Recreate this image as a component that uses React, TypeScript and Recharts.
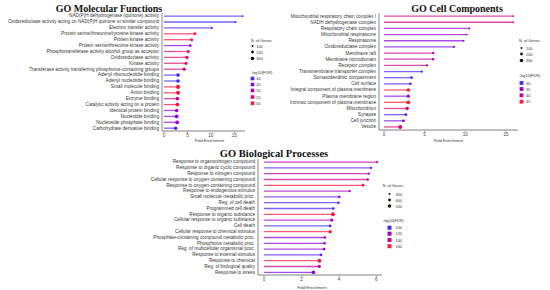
import React from 'react';
import { BarChart, Bar, XAxis, YAxis } from 'recharts';

// ---------- GO Molecular Functions ----------
const mfTerms = [
  'NAD(P)H dehydrogenase (quinone) activity',
  'Oxidoreductase activity acting on NAD(P)H quinone or similar compound',
  'Electron transfer activity',
  'Protein serine/threonine/tyrosine kinase activity',
  'Protein kinase activity',
  'Protein serine/threonine kinase activity',
  'Phosphotransferase activity alcohol group as acceptor',
  'Oxidoreductase activity',
  'Kinase activity',
  'Transferase activity transferring phosphorus-containing groups',
  'Adenyl ribonucleotide binding',
  'Adenyl nucleotide binding',
  'Small molecule binding',
  'Anion binding',
  'Enzyme binding',
  'Catalytic activity acting on a protein',
  'Identical protein binding',
  'Nucleotide binding',
  'Nucleoside phosphate binding',
  'Carbohydrate derivative binding',
];
const mfFold = [16.8, 15.3, 10.2, 6.6, 5.9, 5.6, 5.2, 4.9, 4.7, 4.3, 3.0, 3.0, 3.0, 3.0, 2.85, 2.85, 2.7, 2.7, 2.8, 2.5];
const mfLogFdr = [40, 40, 41, 60, 59, 46, 56, 57, 57, 54, 40, 40, 60, 60, 52, 58, 46, 46, 47, 41];
const mfGenes = [60, 70, 90, 180, 200, 160, 190, 230, 210, 220, 260, 260, 330, 320, 260, 290, 250, 270, 280, 240];
const mfSizeLegend = [100, 200, 300];
const mfFdrLegend = [40, 45, 50, 55, 60];
const mfTicks = [0, 5, 10, 15];

// ---------- GO Cell Components ----------
const ccTerms = [
  'Mitochondrial respiratory chain complex I',
  'NADH dehydrogenase complex',
  'Respiratory chain complex',
  'Mitochondrial respirasome',
  'Respirasome',
  'Oxidoreductase complex',
  'Membrane raft',
  'Membrane microdomain',
  'Receptor complex',
  'Transmembrane transporter complex',
  'Somatodendritic compartment',
  'Cell surface',
  'Integral component of plasma membrane',
  'Plasma membrane region',
  'Intrinsic component of plasma membrane',
  'Mitochondrion',
  'Synapse',
  'Cell junction',
  'Vesicle',
];
const ccFold = [15.9, 15.9, 10.5, 10.2, 9.8, 8.6, 6.05, 6.05, 5.3, 4.65, 3.4, 3.25, 3.0, 3.0, 3.0, 2.85, 2.7, 2.4, 2.0];
const ccLogFdr = [41, 41, 35, 35, 34, 34, 39, 39, 41, 30, 30, 31, 45, 34, 45, 42, 31, 33, 42];
const ccGenes = [50, 55, 70, 65, 70, 90, 120, 120, 110, 110, 160, 150, 260, 200, 270, 250, 170, 160, 300];
const ccSizeLegend = [100, 200, 300];
const ccFdrLegend = [30, 35, 40, 45];
const ccTicks = [0, 5, 10, 15];

// ---------- GO Biological Processes ----------
const bpTerms = [
  'Response to organonitrogen compound',
  'Response to organic cyclic compound',
  'Response to nitrogen compound',
  'Cellular response to oxygen-containing compound',
  'Response to oxygen-containing compound',
  'Response to endogenous stimulus',
  'Small molecule metabolic proc.',
  'Reg. of cell death',
  'Programmed cell death',
  'Response to organic substance',
  'Cellular response to organic substance',
  'Cell death',
  'Cellular response to chemical stimulus',
  'Phosphate-containing compound metabolic proc.',
  'Phosphorus metabolic proc.',
  'Reg. of multicellular organismal proc.',
  'Response to external stimulus',
  'Response to chemical',
  'Reg. of biological quality',
  'Response to stress',
];
const bpFold = [6.04, 5.71, 5.59, 5.54, 5.29, 4.57, 4.02, 3.98, 3.7, 3.68, 3.62, 3.53, 3.53, 3.25, 3.23, 3.21, 3.04, 2.96, 2.95, 2.64];
const bpLogFdr = [135, 105, 135, 140, 160, 125, 112, 102, 102, 158, 125, 102, 160, 118, 118, 118, 105, 160, 140, 115];
const bpGenes = [300, 310, 320, 330, 380, 320, 340, 330, 340, 480, 420, 360, 440, 350, 350, 360, 360, 500, 420, 470];
const bpSizeLegend = [300, 400, 500];
const bpFdrLegend = [100, 120, 140, 160];
const bpTicks = [0, 2, 4, 6];

// ---------- helpers ----------
const STOPS = ['#3b2bff', '#9a00d6', '#c8008f', '#ff1a3c'];

function hexToRgb(h: string) {
  const n = parseInt(h.slice(1), 16);
  return [(n >> 16) & 255, (n >> 8) & 255, n & 255];
}
function colorAt(t: number) {
  const tt = Math.max(0, Math.min(1, t)) * (STOPS.length - 1);
  const i = Math.min(STOPS.length - 2, Math.floor(tt));
  const f = tt - i;
  const a = hexToRgb(STOPS[i]);
  const b = hexToRgb(STOPS[i + 1]);
  const c = a.map((v, k) => Math.round(v + (b[k] - v) * f));
  return `rgb(${c[0]},${c[1]},${c[2]})`;
}
function makeColor(lo: number, hi: number) {
  return (v: number) => colorAt((v - lo) / (hi - lo));
}
function makeRadius(lo: number, hi: number) {
  return (g: number) => 1.1 + ((g - lo) / (hi - lo)) * 0.9;
}

function build(terms: string[], fold: number[], fdr: number[], genes: number[]) {
  return terms.map((name, i) => ({ name, fold: fold[i], fdr: fdr[i], genes: genes[i] }));
}

const mfData = build(mfTerms, mfFold, mfLogFdr, mfGenes);
const ccData = build(ccTerms, ccFold, ccLogFdr, ccGenes);
const bpData = build(bpTerms, bpFold, bpLogFdr, bpGenes);

const SANS = '"Liberation Sans", Arial, sans-serif';
const SERIF = '"Liberation Serif", "Times New Roman", serif';

type PanelProps = {
  data: any[];
  left: number;
  top: number;
  width: number;
  height: number;
  yWidth: number;
  margin: { top: number; right: number; bottom: number; left: number };
  domain: [number, number];
  ticks: number[];
  padLeft: number;
  xHeight: number;
  labelOffset: number;
  labelDx: number;
  color: (v: number) => string;
  radius: (g: number) => number;
};

const YTick = (props: any) => {
  const { x, y, payload } = props;
  return (
    <text x={x} y={y} textAnchor="end" dominantBaseline="central" fontSize={4.7} fill="#333" fontFamily={SANS}>
      {payload.value}
    </text>
  );
};

function Panel(p: PanelProps) {
  const Lolli = (props: any) => {
    const { x, y, width, height, payload } = props;
    const cy = y + height / 2;
    const c = p.color(payload.fdr);
    const r = p.radius(payload.genes);
    return (
      <g>
        <line x1={x} y1={cy} x2={x + width} y2={cy} stroke={c} strokeOpacity={0.72} strokeWidth={1.3} />
        <circle cx={x + width} cy={cy} r={r} fill={c} />
      </g>
    );
  };
  return (
    <div style={{ position: 'absolute', left: p.left, top: p.top }}>
      <BarChart width={p.width} height={p.height} data={p.data} layout="vertical" margin={p.margin}>
        <XAxis
          type="number"
          dataKey="fold"
          domain={p.domain}
          ticks={p.ticks}
          padding={{ left: p.padLeft, right: 0 }}
          height={p.xHeight}
          tickSize={2}
          tickMargin={1}
          axisLine={{ stroke: '#aaa', strokeWidth: 1.5 }}
          tickLine={{ stroke: '#aaa' }}
          tick={{ fontSize: 4.6, fill: '#444', fontFamily: SANS }}
          label={{
            value: 'Fold Enrichment',
            position: 'insideBottom',
            offset: p.labelOffset,
            dx: p.labelDx,
            style: { fontSize: 4, fill: '#333', fontFamily: SANS },
          }}
        />
        <YAxis
          type="category"
          dataKey="name"
          width={p.yWidth}
          interval={0}
          tickSize={2}
          tickMargin={1}
          tickLine={false}
          axisLine={{ stroke: '#888', strokeWidth: 1 }}
          tick={<YTick />}
        />
        <Bar dataKey="fold" shape={Lolli} isAnimationActive={false} />
      </BarChart>
    </div>
  );
}

type LegendProps = {
  x: number;
  y: number;
  sizes: number[];
  fdrs: number[];
  color: (v: number) => string;
  radius: (g: number) => number;
  dotX: number;
  labelX: number;
  sizeYs: number[];
  fdrTitleY: number;
  fdrYs: number[];
  sq: number;
};

function GLegend(l: LegendProps) {
  const fs = 3.9;
  return (
    <g fontFamily={SANS} fontSize={fs} fill="#333">
      <text x={l.x} y={l.y} dominantBaseline="central">N. of Genes</text>
      {l.sizes.map((s, i) => (
        <g key={'s' + i}>
          <circle cx={l.dotX} cy={l.sizeYs[i]} r={l.radius(s) * 0.9} fill="#111" />
          <text x={l.labelX} y={l.sizeYs[i]} dominantBaseline="central">{s}</text>
        </g>
      ))}
      <text x={l.x} y={l.fdrTitleY} dominantBaseline="central">-log10(FDR)</text>
      {l.fdrs.map((f, i) => (
        <g key={'f' + i}>
          <rect x={l.dotX - l.sq / 2} y={l.fdrYs[i] - l.sq / 2} width={l.sq} height={l.sq} fill={l.color(f)} />
          <text x={l.labelX} y={l.fdrYs[i]} dominantBaseline="central">{f}</text>
        </g>
      ))}
    </g>
  );
}

export default function App() {
  const mfColor = makeColor(40, 60);
  const ccColor = makeColor(30, 45);
  const bpColor = makeColor(100, 160);
  const mfRad = makeRadius(100, 300);
  const ccRad = makeRadius(100, 300);
  const bpRad = makeRadius(300, 500);
  return (
    <div style={{ position: 'absolute', left: 0, top: 0, width: 550, height: 290, background: '#fff', overflow: 'hidden' }}>
      <Panel
        data={mfData}
        left={0}
        top={0}
        width={250}
        height={150}
        yWidth={162}
        margin={{ top: 13, right: 5, bottom: 0, left: 0 }}
        domain={[0, 17.3]}
        ticks={mfTicks}
        padLeft={2}
        xHeight={19}
        labelOffset={8}
        labelDx={6}
        color={mfColor}
        radius={mfRad}
      />
      <Panel
        data={ccData}
        left={260}
        top={0}
        width={260}
        height={150}
        yWidth={119}
        margin={{ top: 13, right: 2, bottom: 0, left: 0 }}
        domain={[0, 16.5]}
        ticks={ccTicks}
        padLeft={5}
        xHeight={20}
        labelOffset={8}
        labelDx={0}
        color={ccColor}
        radius={ccRad}
      />
      <Panel
        data={bpData}
        left={140}
        top={140}
        width={244}
        height={150}
        yWidth={118}
        margin={{ top: 19, right: 2, bottom: 0, left: 0 }}
        domain={[0, 6.3]}
        ticks={bpTicks}
        padLeft={6}
        xHeight={15}
        labelOffset={1.5}
        labelDx={-8}
        color={bpColor}
        radius={bpRad}
      />
      <svg width={550} height={290} style={{ position: 'absolute', left: 0, top: 0, pointerEvents: 'none' }}>
        <g fontFamily={SERIF} fontWeight="bold" fill="#111" textAnchor="middle">
          <text x={109} y={12} fontSize={10}>GO Molecular Functions</text>
          <text x={457} y={12} fontSize={10}>GO Cell Components</text>
          <text x={274} y={157} fontSize={10.5}>GO Biological Processes</text>
        </g>
        <GLegend
          x={251}
          y={40}
          sizes={mfSizeLegend}
          fdrs={mfFdrLegend}
          color={mfColor}
          radius={mfRad}
          dotX={252.5}
          labelX={256.3}
          sizeYs={[46, 52, 58.5]}
          fdrTitleY={72}
          fdrYs={[78.5, 84.5, 90.5, 97, 103.3]}
          sq={3.6}
        />
        <GLegend
          x={519}
          y={40}
          sizes={ccSizeLegend}
          fdrs={ccFdrLegend}
          color={ccColor}
          radius={ccRad}
          dotX={521.5}
          labelX={526}
          sizeYs={[48, 54, 60.5]}
          fdrTitleY={75}
          fdrYs={[83, 89, 95.3, 101.7]}
          sq={3.8}
        />
        <GLegend
          x={382.5}
          y={185.5}
          sizes={bpSizeLegend}
          fdrs={bpFdrLegend}
          color={bpColor}
          radius={bpRad}
          dotX={389.5}
          labelX={395.5}
          sizeYs={[194, 200, 206]}
          fdrTitleY={220}
          fdrYs={[227.7, 233.7, 240, 246.2]}
          sq={4}
        />
      </svg>
    </div>
  );
}
